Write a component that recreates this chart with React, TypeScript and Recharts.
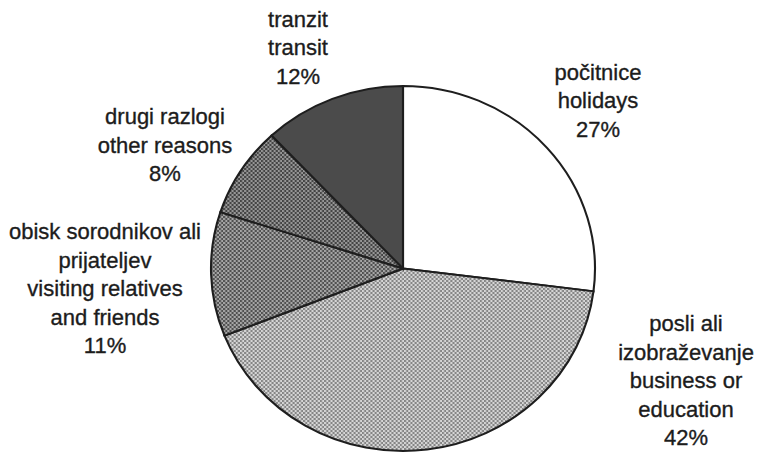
import { PieChart, Pie, Cell } from "recharts";

const labelLines = [
  ["počitnice", "holidays"],
  ["posli ali", "izobraževanje", "business or", "education"],
  ["obisk sorodnikov ali", "prijateljev", "visiting relatives", "and friends"],
  ["drugi razlogi", "other reasons"],
  ["tranzit", "transit"],
];
const shares = [27, 42, 11, 8, 12];

const data = shares.map((value, i) => ({ name: labelLines[i].join(" "), value, lines: labelLines[i] }));

// layout: pie geometry and where each label block sits relative to the pie centre
const CX = 403;
const CY = 268.5;
const R = 182.5;
const STRETCH_X = 1.052;
const LINE_H = 28.5;
const labelOffsets = [
  [195, -168.5],
  [283, 111.5],
  [-298, 19.5],
  [-238, -124],
  [-105, -221.5],
];
const fills = ["#ffffff", "url(#dotLight)", "url(#dotMid)", "url(#dotDark)", "#4b4b4b"];

const renderLabel = (props: any) => {
  const { cx, cy, index, payload } = props;
  const lines: string[] = [...(payload.lines ?? payload.payload?.lines), `${payload.value ?? props.value}%`];
  const [dx, dy] = labelOffsets[index];
  const top = cy + dy - ((lines.length - 1) * LINE_H) / 2;
  return (
    <text
      key={`lbl-${index}`}
      x={cx + dx}
      y={top}
      textAnchor="middle"
      dominantBaseline="central"
      fontFamily="'Liberation Sans', Arial, sans-serif"
      fontSize={22}
      fill="#1c1c1c"
      stroke="#1c1c1c"
      strokeWidth={0.35}
    >
      {lines.map((l, i) => (
        <tspan key={i} x={cx + dx} y={top + i * LINE_H}>
          {l}
        </tspan>
      ))}
    </text>
  );
};

export default function App() {
  return (
    <div style={{ position: "absolute", left: 0, top: 0, width: 763, height: 453, background: "#fff" }}>
      <style>{`.recharts-sector { transform-origin: ${CX}px ${CY}px; transform: scaleX(${STRETCH_X}); }`}</style>
      <svg width={0} height={0} style={{ position: "absolute" }}>
        <defs>
          <pattern id="dotLight" width={4} height={4} patternUnits="userSpaceOnUse">
            <rect width={4} height={4} fill="#d6d6d6" />
            <rect width={2} height={2} fill="#858585" />
            <rect x={2} y={2} width={2} height={2} fill="#858585" />
          </pattern>
          <pattern id="dotMid" width={4} height={4} patternUnits="userSpaceOnUse">
            <rect width={4} height={4} fill="#a6a6a6" />
            <rect width={2} height={2} fill="#505050" />
            <rect x={2} y={2} width={2} height={2} fill="#505050" />
          </pattern>
          <pattern id="dotDark" width={4} height={4} patternUnits="userSpaceOnUse">
            <rect width={4} height={4} fill="#969696" />
            <rect width={2} height={2} fill="#444444" />
            <rect x={2} y={2} width={2} height={2} fill="#444444" />
          </pattern>
        </defs>
      </svg>
      <PieChart width={763} height={453} margin={{ top: 0, right: 0, bottom: 0, left: 0 }}>
        <Pie
          data={data}
          dataKey="value"
          nameKey="name"
          cx={CX}
          cy={CY}
          outerRadius={R}
          startAngle={90}
          endAngle={-270}
          stroke="#1e1e1e"
          strokeWidth={2}
          label={renderLabel}
          labelLine={false}
          isAnimationActive={false}
        >
          {data.map((d, i) => (
            <Cell key={d.name} fill={fills[i]} />
          ))}
        </Pie>
      </PieChart>
    </div>
  );
}
